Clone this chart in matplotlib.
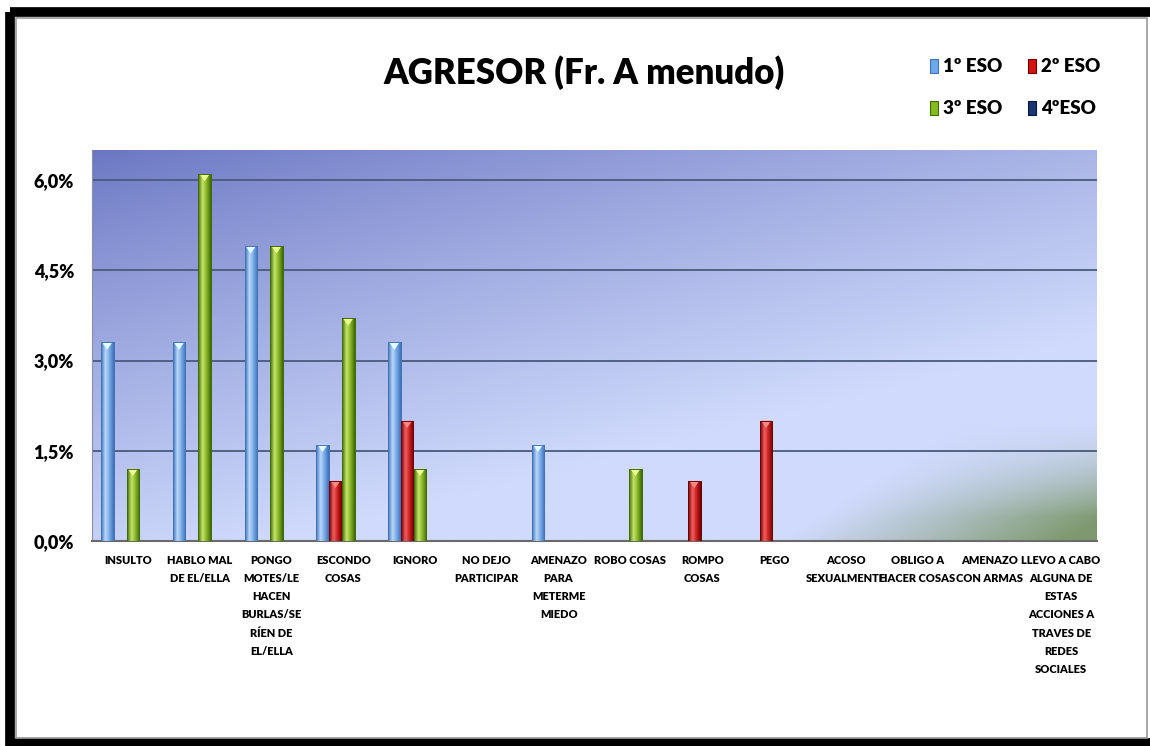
import numpy as np
import matplotlib
matplotlib.use("Agg")
import matplotlib.pyplot as plt
from matplotlib.patches import Rectangle, Polygon
from matplotlib.colors import to_rgb

plt.rcParams['font.family'] = ['Lato', 'DejaVu Sans']
plt.rcParams['font.weight'] = 'bold'

categories = [
    "INSULTO", "HABLO MAL\nDE EL/ELLA", "PONGO\nMOTES/LE\nHACEN\nBURLAS/SE\nRÍEN DE\nEL/ELLA",
    "ESCONDO\nCOSAS", "IGNORO", "NO DEJO\nPARTICIPAR", "AMENAZO\nPARA\nMETERME\nMIEDO",
    "ROBO COSAS", "ROMPO\nCOSAS", "PEGO", "ACOSO\nSEXUALMENTE", "OBLIGO A\nHACER COSAS",
    "AMENAZO\nCON ARMAS", "LLEVO A CABO\nALGUNA DE\nESTAS\nACCIONES A\nTRAVES DE\nREDES\nSOCIALES",
]
series_names = ["1º ESO", "2º ESO", "3º ESO", "4ºESO"]
eso1 = [3.3, 3.3, 4.9, 1.6, 3.3, 0, 1.6, 0, 0, 0, 0, 0, 0, 0]
eso2 = [0, 0, 0, 1.0, 2.0, 0, 0, 0, 1.0, 2.0, 0, 0, 0, 0]
eso3 = [1.2, 6.1, 4.9, 3.7, 1.2, 0, 0, 1.2, 0, 0, 0, 0, 0, 0]
eso4 = [0, 0, 0, 0, 0, 0, 0, 0, 0, 0, 0, 0, 0, 0]
yticks = [0.0, 1.5, 3.0, 4.5, 6.0]
ytick_labels = ["0,0%", "1,5%", "3,0%", "4,5%", "6,0%"]

# (edge/dark, mid, highlight) per series
palettes = [
    ("#3f72b8", "#6fa8ea", "#bcd8fa"),
    ("#6e0000", "#d41414", "#f26060"),
    ("#3f6a06", "#86bb1a", "#c6e46a"),
    ("#0a1640", "#1c3470", "#4a6aa8"),
]

W, H = 1150, 746
fig = plt.figure(figsize=(W / 100, H / 100), dpi=100)
fig.patch.set_facecolor("white")

# outer frame
frame = fig.add_axes([0, 0, 1, 1])
frame.set_xlim(0, W)
frame.set_ylim(H, 0)
frame.axis("off")
frame.add_patch(Rectangle((10, 12), W + 20, 731, fill=False, lw=7, ec="black"))
frame.add_patch(Rectangle((16, 18), 1131, 720, fill=False, lw=1.2, ec="#9a9a9a"))

# plot area
left, right, top, bottom = 92, 1097, 150, 541
ax = fig.add_axes([left / W, 1 - bottom / H, (right - left) / W, (bottom - top) / H])
ymax = 6.5
n = len(categories)
ax.set_xlim(0, n)
ax.set_ylim(0, ymax)

# background: diagonal lavender gradient with a grey-green bottom-right corner
ny, nx = 240, 480
yy, xx = np.mgrid[0:1:ny * 1j, 0:1:nx * 1j]
c_dark = np.array(to_rgb("#6a76c2"))
c_light = np.array(to_rgb("#cfdafc"))
c_green = np.array(to_rgb("#7a9668"))
s = np.clip((0.55 * xx + 0.85 * yy) / 0.95, 0, 1)[..., None] ** 0.85
base = c_dark * (1 - s) + c_light * s
gcorner = np.clip((xx * 1.0 + yy * 0.6 - 1.29) / 0.28, 0, 1)
gcorner = gcorner * np.clip((yy - 0.7) / 0.24, 0, 1)
g = (0.95 * gcorner ** 1.1)[..., None]
base = base * (1 - g) + c_green * g
base = np.clip(base, 0, 1)
ax.imshow(base, extent=[0, n, 0, ymax], aspect="auto", zorder=0, origin="upper",
          interpolation="bilinear")

for yv in yticks[1:]:
    ax.axhline(yv, color="#4a5a7a", lw=1.3, zorder=1)

for sp in ["top", "right"]:
    ax.spines[sp].set_visible(False)
ax.spines["left"].set_color("#8a8fa8")
ax.spines["bottom"].set_color("#6a6a6a")
ax.spines["bottom"].set_linewidth(1.5)

x = np.arange(n) + 0.5
bw = 0.175
all_series = [eso1, eso2, eso3, eso4]
for i, (vals, pal) in enumerate(zip(all_series, palettes)):
    offs = (i - 1.5) * bw * 1.02
    bars = ax.bar(x + offs - 0.02, vals, width=bw, color=pal[1], edgecolor=pal[0],
                  lw=0.6, zorder=2, label=series_names[i])
    dark, mid, hi = (np.array(to_rgb(c)) for c in pal)
    u = np.linspace(0, 1, 40)
    prof = np.empty((1, 40, 3))
    for k, uu in enumerate(u):
        if uu < 0.35:
            f = uu / 0.35
            col = dark * (1 - f) + hi * f
        else:
            f = (uu - 0.35) / 0.65
            col = hi * (1 - f) ** 2 + mid * 2 * f * (1 - f) + dark * f ** 2
        prof[0, k] = col
    for b in bars:
        h = b.get_height()
        if h <= 0:
            continue
        x0, w = b.get_x(), b.get_width()
        im = ax.imshow(prof, extent=[x0, x0 + w, 0, h], aspect="auto", zorder=3,
                       interpolation="bilinear")
        im.set_clip_path(b)
        cap_h = 0.12
        ax.add_patch(Polygon([[x0 + w * 0.1, h], [x0 + w * 0.9, h], [x0 + w * 0.5, h - cap_h]],
                             closed=True, fc=tuple(np.clip(hi + 0.15, 0, 1)), ec="none", zorder=4))
        ax.add_patch(Rectangle((x0, 0), w, h, fill=False, ec=pal[0], lw=0.7, zorder=5))

ax.set_yticks(yticks)
ax.set_yticklabels(ytick_labels, fontsize=13, fontweight="heavy")
ax.tick_params(axis="y", length=0, pad=13)
ax.set_xticks(x)
ax.set_xticklabels(categories, fontsize=7.9, fontweight="heavy", linespacing=1.8)
ax.tick_params(axis="x", length=0, pad=10)

fig.text(0.508, 1 - 73 / H, "AGRESOR (Fr. A menudo)", ha="center", va="center",
         fontsize=25, fontweight="heavy")

# legend
leg_pos = [(930, 66), (1028, 66), (930, 108), (1028, 108)]
for (lx, ly), name, pal in zip(leg_pos, series_names, palettes):
    frame.add_patch(Rectangle((lx, ly - 7), 8, 14, fc=pal[1], ec=pal[0], lw=0.8))
    frame.text(lx + 13, ly, name, ha="left", va="center", fontsize=13.5, fontweight="heavy")

fig.savefig("out.png", dpi=100)
